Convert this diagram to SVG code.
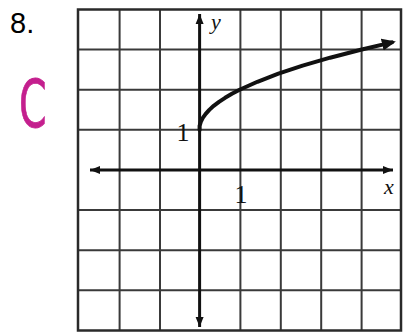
<svg xmlns="http://www.w3.org/2000/svg" width="409" height="333" viewBox="0 0 409 333">
  <style>
    .grid { stroke: #3a3a3a; stroke-width: 2; fill: none; }
    .border { stroke: #2a2a2a; stroke-width: 2.5; fill: none; }
    .axis { stroke: #111; stroke-width: 3; fill: none; }
    .curve { stroke: #111; stroke-width: 4; fill: none; stroke-linecap: round; stroke-linejoin: round; }
    .lbl { font-family: "Liberation Serif", "DejaVu Serif", serif; fill: #111; }
    .it { font-style: italic; }
  </style>
  <defs>
    <marker id="ah" markerUnits="userSpaceOnUse" markerWidth="14" markerHeight="10" refX="10" refY="5" orient="auto">
      <path d="M0,1 L10,5 L0,9 Z" fill="#111"/>
    </marker>
    <marker id="ahc" markerUnits="userSpaceOnUse" markerWidth="18" markerHeight="14" refX="10" refY="7" orient="auto">
      <path d="M0,1 L14,7 L0,13 Z" fill="#111"/>
    </marker>
  </defs>
  <rect width="409" height="333" fill="#fff"/>

  <g id="problem-number">
    <text x="10" y="33" font-family="Liberation Sans, Arial, sans-serif" font-size="29" fill="#000">8.</text>
  </g>
  <g id="answer-mark">
    <text x="0" y="0" transform="translate(19,127) scale(0.6,1)" font-family="DejaVu Sans, sans-serif" font-size="66" fill="#c41f8e" stroke="#c41f8e" stroke-width="0.8">C</text>
  </g>

  <g id="grid">
    <path class="grid" d="M119.6,9.5V330.5 M160,9.5V330.5 M240.4,9.5V330.5 M280.8,9.5V330.5 M321.2,9.5V330.5 M361.6,9.5V330.5
      M78,49.6H401 M78,89.7H401 M78,129.8H401 M78,210.1H401 M78,250.2H401 M78,290.3H401"/>
    <rect class="border" x="78" y="9.5" width="323" height="321"/>
  </g>

  <g id="axes">
    <line class="axis" x1="199.6" y1="170" x2="199.6" y2="14" marker-end="url(#ah)"/>
    <line class="axis" x1="199.6" y1="170" x2="199.6" y2="327" marker-end="url(#ah)"/>
    <line class="axis" x1="199.6" y1="170" x2="393" y2="170" marker-end="url(#ah)"/>
    <line class="axis" x1="199.6" y1="170" x2="90" y2="170" marker-end="url(#ah)"/>
  </g>

  <g id="curve">
    <polyline class="curve" marker-end="url(#ahc)" points="199.6,129.9 199.6,125.9 200.8,121.9 202.8,117.9 205.7,113.9 209.3,109.9 213.7,105.8 219,101.8 225.1,97.8 231.9,93.8 239.6,89.8 257.4,81.8 278.4,73.7 302.6,65.7 330.1,57.7 360.8,49.7 392,42.4"/>
  </g>

  <g id="labels">
    <text class="lbl it" x="211" y="29" font-size="22">y</text>
    <text class="lbl it" x="384" y="194" font-size="22">x</text>
    <text class="lbl" x="183" y="141" font-size="26" text-anchor="middle">1</text>
    <text class="lbl" x="241" y="203" font-size="26" text-anchor="middle">1</text>
  </g>
</svg>
